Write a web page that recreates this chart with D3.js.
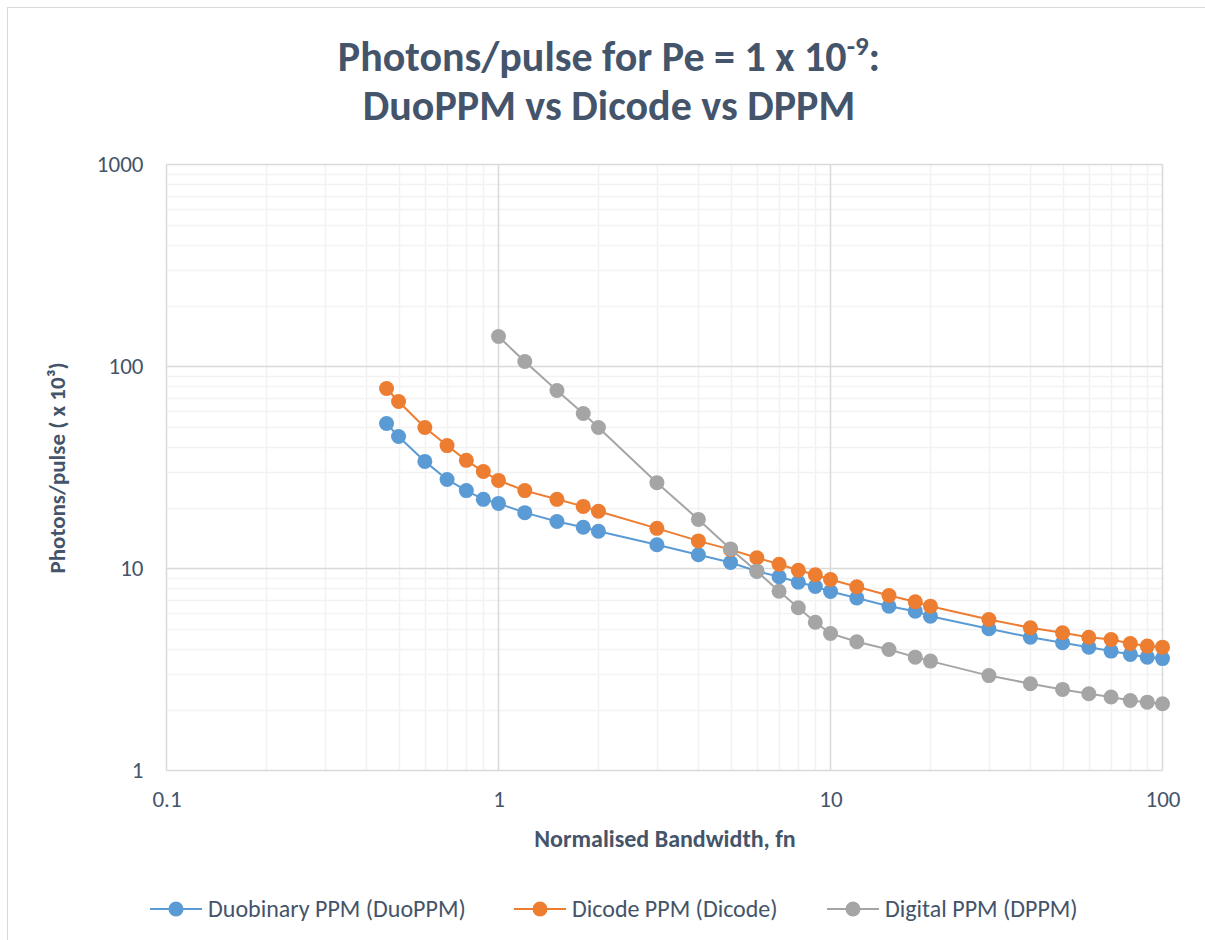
<!DOCTYPE html>
<html>
<head>
<meta charset="utf-8">
<script src="https://cdn.jsdelivr.net/npm/d3@7"></script>
<style>
  body { margin: 0; background: #fff; }
  text { font-family: Carlito, Calibri, Lato, "Open Sans", sans-serif; }
</style>
</head>
<body>
<div id="chart"></div>
<script>
// bandwidth values (fn)
var fnDuo = [0.46, 0.5, 0.6, 0.7, 0.8, 0.9, 1, 1.2, 1.5, 1.8, 2, 3, 4, 5, 6, 7, 8, 9, 10, 12, 15, 18, 20, 30, 40, 50, 60, 70, 80, 90, 100];
var fnDppm = [1, 1.2, 1.5, 1.8, 2, 3, 4, 5, 6, 7, 8, 9, 10, 12, 15, 18, 20, 30, 40, 50, 60, 70, 80, 90, 100];

// photons/pulse (x 10^3)
var duoPPM = [52.2, 45.0, 33.9, 27.6, 24.3, 22.0, 21.0, 18.9, 17.1, 16.0, 15.3, 13.1, 11.7, 10.7, 9.7, 9.1, 8.55, 8.15, 7.7, 7.15, 6.5, 6.15, 5.8, 5.03, 4.57, 4.29, 4.08, 3.9, 3.75, 3.64, 3.58];
var dicode = [77.8, 67.1, 49.9, 40.6, 34.3, 30.2, 27.3, 24.3, 22.0, 20.3, 19.2, 15.8, 13.7, 12.4, 11.3, 10.5, 9.8, 9.31, 8.82, 8.12, 7.35, 6.84, 6.51, 5.59, 5.09, 4.81, 4.57, 4.45, 4.25, 4.13, 4.08];
var dppm = [140.8, 105.8, 76.1, 58.5, 49.9, 26.6, 17.5, 12.5, 9.7, 7.72, 6.39, 5.42, 4.77, 4.34, 3.97, 3.64, 3.48, 2.95, 2.69, 2.52, 2.40, 2.31, 2.22, 2.18, 2.14];

var xTicks = [0.1, 1, 10, 100];
var yTicks = [1, 10, 100, 1000];

var seriesNames = ["Duobinary PPM (DuoPPM)", "Dicode PPM (Dicode)", "Digital PPM (DPPM)"];
var seriesColors = ["#5B9BD5", "#ED7D31", "#A5A5A5"];

var width = 1205, height = 940;
var textColor = "#44546A";

var svg = d3.select("#chart").append("svg")
    .attr("width", width)
    .attr("height", height);

// chart frame
svg.append("rect")
    .attr("x", 7.5).attr("y", 7.5)
    .attr("width", width + 20).attr("height", height + 20)
    .attr("fill", "#fff")
    .attr("stroke", "#D9D9D9")
    .attr("stroke-width", 1);

var x = d3.scaleLog().domain([0.1, 100]).range([166.5, 1162.5]);
var y = d3.scaleLog().domain([1, 1000]).range([770.5, 164.5]);

// minor grid
var minorX = [], minorY = [];
[0.1, 1, 10].forEach(function(d){
    for (var k = 2; k <= 9; k++) minorX.push(d * k);
});
[1, 10, 100].forEach(function(d){
    for (var k = 2; k <= 9; k++) minorY.push(d * k);
});

var grid = svg.append("g");
grid.selectAll(".mx").data(minorX).enter().append("line")
    .attr("x1", function(d){ return Math.round(x(d)) + 0.5; })
    .attr("x2", function(d){ return Math.round(x(d)) + 0.5; })
    .attr("y1", y(1000)).attr("y2", y(1))
    .attr("stroke", "#F2F2F2").attr("stroke-width", 1.5);
grid.selectAll(".my").data(minorY).enter().append("line")
    .attr("y1", function(d){ return Math.round(y(d)) + 0.5; })
    .attr("y2", function(d){ return Math.round(y(d)) + 0.5; })
    .attr("x1", x(0.1)).attr("x2", x(100))
    .attr("stroke", "#F2F2F2").attr("stroke-width", 1.5);

// major grid
grid.selectAll(".Mx").data(xTicks).enter().append("line")
    .attr("x1", function(d){ return x(d); })
    .attr("x2", function(d){ return x(d); })
    .attr("y1", y(1000)).attr("y2", y(1))
    .attr("stroke", "#D9D9D9").attr("stroke-width", 1.5);
grid.selectAll(".My").data(yTicks).enter().append("line")
    .attr("y1", function(d){ return y(d); })
    .attr("y2", function(d){ return y(d); })
    .attr("x1", x(0.1)).attr("x2", x(100))
    .attr("stroke", "#D9D9D9").attr("stroke-width", 1.5);

// axes
var xAxis = svg.append("g")
    .attr("transform", "translate(0," + y(1) + ")")
    .call(d3.axisBottom(x).tickValues(xTicks).tickSize(0).tickPadding(20).tickFormat(d3.format("")));
var yAxis = svg.append("g")
    .attr("transform", "translate(" + x(0.1) + ",0)")
    .call(d3.axisLeft(y).tickValues(yTicks).tickSize(0).tickPadding(23).tickFormat(d3.format("")));
[xAxis, yAxis].forEach(function(a){
    a.select(".domain").remove();
    a.selectAll("text")
        .attr("fill", textColor)
        .style("font-size", "23px")
        .style("font-family", "Carlito, Calibri, Lato, sans-serif");
});

// series
var series = [
    { name: seriesNames[0], color: seriesColors[0], xs: fnDuo, ys: duoPPM },
    { name: seriesNames[1], color: seriesColors[1], xs: fnDuo, ys: dicode },
    { name: seriesNames[2], color: seriesColors[2], xs: fnDppm, ys: dppm }
];

var line = d3.line()
    .x(function(d){ return x(d[0]); })
    .y(function(d){ return y(d[1]); });

series.forEach(function(s){
    var pts = s.xs.map(function(v, i){ return [v, s.ys[i]]; });
    var g = svg.append("g");
    g.append("path")
        .datum(pts)
        .attr("d", line)
        .attr("fill", "none")
        .attr("stroke", s.color)
        .attr("stroke-width", 2);
    g.selectAll("circle").data(pts).enter().append("circle")
        .attr("cx", function(d){ return x(d[0]); })
        .attr("cy", function(d){ return y(d[1]); })
        .attr("r", 7.5)
        .attr("fill", s.color);
});

// title
var title = svg.append("text")
    .attr("x", 609).attr("y", 71)
    .attr("text-anchor", "middle")
    .attr("fill", textColor)
    .style("font-size", "42px")
    .style("font-weight", "bold");
title.append("tspan").text("Photons/pulse for Pe = 1 x 10");
title.append("tspan").text("-9").attr("dy", -16).style("font-size", "27px");
title.append("tspan").text(":").attr("dy", 16);
svg.append("text")
    .attr("x", 609).attr("y", 120)
    .attr("text-anchor", "middle")
    .attr("fill", textColor)
    .style("font-size", "42px")
    .style("font-weight", "bold")
    .text("DuoPPM vs Dicode vs DPPM");

// axis titles
svg.append("text")
    .attr("x", 665).attr("y", 847)
    .attr("text-anchor", "middle")
    .attr("fill", textColor)
    .style("font-size", "24px")
    .style("font-weight", "bold")
    .text("Normalised Bandwidth, fn");
svg.append("text")
    .attr("transform", "translate(65,468) rotate(-90)")
    .attr("text-anchor", "middle")
    .attr("fill", textColor)
    .style("font-size", "23px")
    .style("font-weight", "bold")
    .text("Photons/pulse ( x 10³)");

// legend
var legendX = [150, 514, 827];
var legend = svg.selectAll(".legend").data(series).enter().append("g")
    .attr("transform", function(d, i){ return "translate(" + legendX[i] + ",909)"; });
legend.append("line")
    .attr("x1", 0).attr("x2", 52)
    .attr("stroke", function(d){ return d.color; })
    .attr("stroke-width", 2);
legend.append("circle")
    .attr("cx", 26).attr("r", 7.5)
    .attr("fill", function(d){ return d.color; });
legend.append("text")
    .attr("x", 58).attr("y", 8)
    .attr("fill", textColor)
    .style("font-size", "24px")
    .text(function(d){ return d.name; });
</script>
</body>
</html>
